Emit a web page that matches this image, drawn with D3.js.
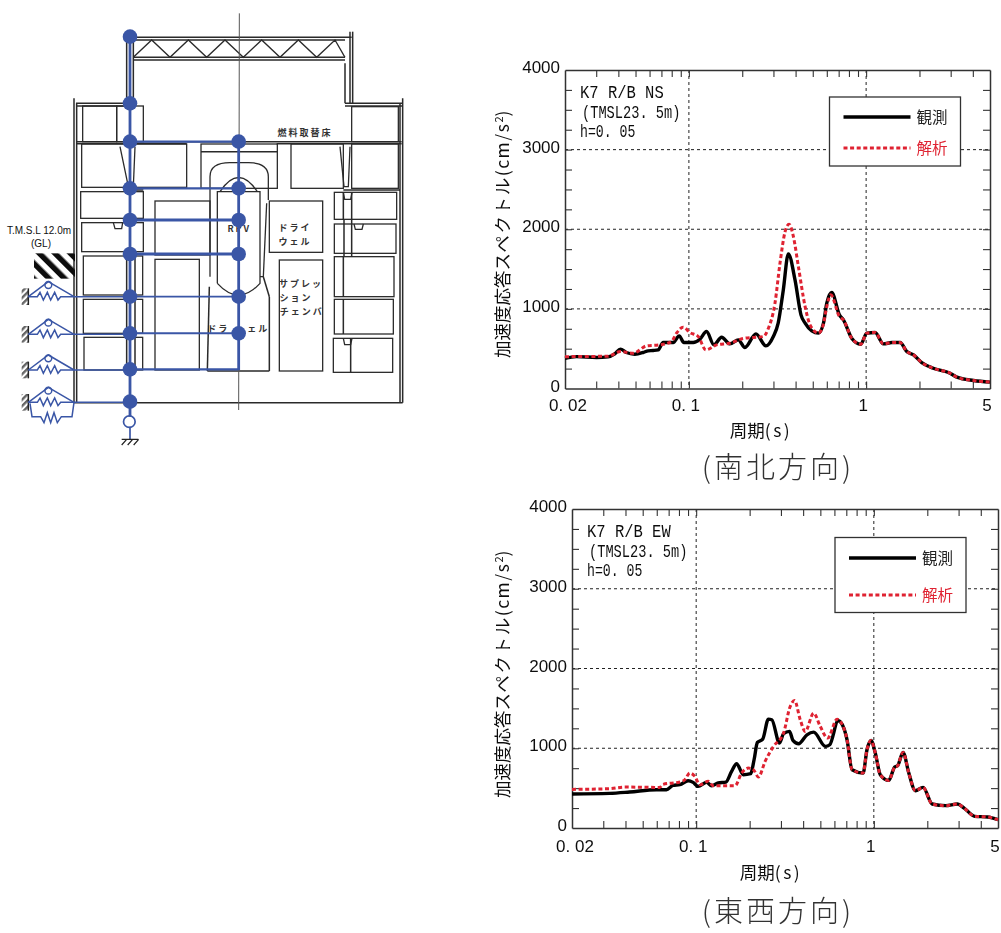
<!DOCTYPE html>
<html>
<head>
<meta charset="utf-8">
<style>
  html, body { margin: 0; padding: 0; background: #fff; }
  svg { display: block; }
  text { fill: #111; }
</style>
<script src="https://cdn.jsdelivr.net/npm/d3@7"></script>
</head>
<body>
<div id="chart"></div>
<script>
////////////////////////////////////////////////////////////////////////////////
///////////////////////////////////////////////////////////////////// Chart data
////////////////////////////////////////////////////////////////////////////////

// NS response spectrum, period (s) and acceleration (cm/s2)
const nsObsT = [0.02, 0.0232, 0.0301, 0.035, 0.0382, 0.0411, 0.0444, 0.0495, 0.0552, 0.0589, 0.0629, 0.0671, 0.0716, 0.0816, 0.0882, 0.0937, 0.1058, 0.1154, 0.1258, 0.1385, 0.153, 0.1705, 0.19, 0.207, 0.239, 0.272, 0.2996, 0.319, 0.341, 0.364, 0.397, 0.429, 0.4527, 0.4935, 0.5385, 0.5746, 0.5999, 0.64, 0.7067, 0.7448, 0.829, 0.9325, 1.009, 1.124, 1.252, 1.397, 1.556, 1.696, 1.85, 2.06, 2.39, 2.98, 3.25, 4.04, 5];
const nsObsV = [380, 400, 390, 397, 435, 494, 452, 431, 452, 473, 477, 485, 577, 577, 661, 577, 577, 619, 715, 548, 644, 560, 611, 515, 686, 535, 653, 820, 1238, 1690, 1364, 925, 820, 724, 695, 820, 1071, 1205, 925, 862, 632, 556, 695, 703, 560, 577, 577, 464, 423, 326, 255, 192, 142, 100, 80];
const nsCalT = [0.02, 0.035, 0.0411, 0.0485, 0.0577, 0.0686, 0.0798, 0.0852, 0.0929, 0.1013, 0.1129, 0.1247, 0.1433, 0.1705, 0.2027, 0.263, 0.281, 0.306, 0.3266, 0.349, 0.3675, 0.3888, 0.4148, 0.4527, 0.4827, 0.5385, 0.5746, 0.5999, 0.632, 0.7067, 0.7448, 0.829, 0.9325, 1.009, 1.124, 1.252, 1.397, 1.556, 1.696, 1.85, 2.06, 2.39, 2.98, 3.25, 4.04, 5];
const nsCalV = [400, 406, 464, 443, 535, 548, 590, 695, 770, 703, 653, 485, 548, 569, 628, 653, 757, 1071, 1573, 1970, 2063, 1908, 1531, 1029, 799, 695, 812, 1029, 1176, 904, 862, 632, 556, 695, 703, 560, 577, 577, 464, 423, 326, 255, 192, 142, 100, 80];

// EW response spectrum
const ewObsT = [0.02, 0.0325, 0.0422, 0.0597, 0.068, 0.0741, 0.0809, 0.0901, 0.0961, 0.1026, 0.1144, 0.1221, 0.1331, 0.1471, 0.1583, 0.1689, 0.1842, 0.2027, 0.2118, 0.2211, 0.2369, 0.255, 0.2664, 0.2945, 0.3102, 0.3354, 0.3505, 0.3773, 0.4203, 0.4584, 0.534, 0.5649, 0.6296, 0.6778, 0.7067, 0.7542, 0.87, 0.915, 0.9646, 1.0195, 1.0875, 1.2124, 1.3103, 1.36, 1.4603, 1.5735, 1.7138, 1.8934, 2.1295, 2.539, 2.9551, 3.2226, 3.7, 4.37, 5];
const ewObsV = [426, 434, 451, 480, 480, 534, 543, 593, 572, 522, 572, 530, 564, 576, 710, 806, 668, 681, 856, 1073, 1115, 1365, 1357, 1065, 1182, 1211, 1098, 1056, 1169, 1202, 1023, 1044, 1344, 1252, 1106, 731, 689, 981, 1098, 939, 668, 597, 764, 780, 948, 689, 468, 509, 301, 280, 301, 250, 146, 138, 104];
const ewCalT = [0.02, 0.0325, 0.0395, 0.0623, 0.0651, 0.0809, 0.0863, 0.0921, 0.0983, 0.1049, 0.1169, 0.1247, 0.1654, 0.1803, 0.1967, 0.2099, 0.2242, 0.2443, 0.2724, 0.3102, 0.3382, 0.3579, 0.3853, 0.4113, 0.4584, 0.4996, 0.5499, 0.6215, 0.6778, 0.7067, 0.7542, 0.87, 0.915, 0.9646, 1.0195, 1.0875, 1.2124, 1.3103, 1.36, 1.4603, 1.5735, 1.7138, 1.8934, 2.1295, 2.539, 2.9551, 3.2226, 3.7, 4.37, 5];
const ewCalV = [484, 493, 513, 509, 547, 576, 605, 689, 647, 543, 585, 530, 530, 689, 751, 731, 639, 835, 1023, 1190, 1524, 1599, 1357, 1211, 1440, 1273, 1127, 1365, 1252, 1106, 731, 689, 981, 1098, 939, 668, 597, 764, 780, 948, 689, 468, 509, 301, 280, 301, 250, 146, 138, 104];

// Axis ticks
const yMajorTicks = [0, 1000, 2000, 3000, 4000];
const yMinorTicks = [250, 500, 750, 1250, 1500, 1750, 2250, 2500, 2750, 3250, 3500, 3750];
const yGridTicks = [1000, 2000, 3000];
const xMajorTicks = [0.02, 0.1, 1, 5];
const xMajorLabels = ["0. 02", "0. 1", "1", "5"];
const xMinorTicks = [0.03, 0.04, 0.05, 0.06, 0.07, 0.08, 0.09, 0.2, 0.3, 0.4, 0.5, 0.6, 0.7, 0.8, 0.9, 2, 3, 4];
const xGridTicks = [0.1, 1];

const legendNames = ["観測", "解析"];

// Building section, in units of 1/3 pixel: x0, y0, x1, y1
const buildingRooms = [
  [248, 318, 350, 425], [350, 318, 430, 425], [245, 432, 560, 562], [873, 432, 1030, 565],
  [1055, 320, 1195, 425], [1055, 432, 1195, 565], [603, 432, 832, 565],
  [242, 575, 430, 655], [245, 668, 430, 755], [250, 768, 428, 885], [250, 898, 428, 1000], [252, 1012, 428, 1110],
  [465, 603, 630, 765], [465, 778, 598, 1110],
  [808, 603, 968, 757], [838, 780, 968, 1113],
  [1003, 577, 1190, 658], [1003, 672, 1188, 760], [1003, 770, 1182, 890], [1003, 898, 1180, 1002], [1000, 1015, 1178, 1117]
];
const buildingWalls = [
  [222, 295, 222, 1208], [230, 310, 230, 1208], [1208, 295, 1208, 1208], [1200, 310, 1200, 1208],
  [222, 1208, 1208, 1208], [228, 310, 380, 310], [228, 318, 380, 318], [1035, 310, 1208, 310], [1035, 318, 1208, 318],
  [380, 100, 380, 310], [400, 100, 400, 310], [1035, 190, 1035, 310], [1058, 95, 1058, 310], [1050, 95, 1050, 310],
  [230, 425, 1205, 425], [230, 431, 560, 431], [830, 431, 1205, 431], [603, 455, 832, 455],
  [380, 570, 430, 570], [1030, 570, 1200, 570],
  [622, 1113, 808, 1113], [622, 1113, 628, 860], [808, 1113, 808, 890], [808, 890, 790, 830],
  [1030, 770, 1030, 890], [1030, 898, 1030, 1002], [1052, 1015, 1052, 1117], [1030, 577, 1030, 658], [1055, 577, 1055, 658],
  [380, 755, 380, 1110], [405, 755, 405, 1110], [1032, 658, 1032, 770], [1055, 658, 1055, 770]
];
const buildingNotches = [
  [[340, 668], [345, 686], [365, 686], [368, 668]],
  [[1062, 672], [1066, 688], [1086, 688], [1090, 672]],
  [[1030, 577], [1034, 598], [1052, 598], [1056, 577]],
  [[1030, 1015], [1034, 1034], [1052, 1034], [1056, 1015]]
];
const trussChords = [[400, 112, 1055, 112], [400, 120, 1035, 120], [400, 172, 1035, 172], [400, 180, 1035, 180]];
const trussPanelX = [400, 455, 510, 565, 620, 675, 730, 785, 840, 895, 950, 1005, 1035];

// Lumped mass model levels, same units
const stickLevels = [110, 310, 425, 565, 660, 762, 890, 1000, 1108, 1205];
const rpvLevels = [425, 565, 660, 762, 890, 1000];
const linkLevels = [425, 565, 660, 762, 890, 1000, 1108];
const linkWidths = [2.4, 2.4, 3, 3, 1.6, 2, 2.4];
const soilLevels = [890, 1003, 1110, 1207];

////////////////////////////////////////////////////////////////////////////////
///////////////////////////////////////////////////////////////////// SVG set-up
////////////////////////////////////////////////////////////////////////////////

const svg = d3.select("#chart")
              .append("svg")
                .attr("width", 1001)
                .attr("height", 933);

const defs = svg.append("defs");

const groundPattern = defs.append("pattern")
  .attr("id", "ground-hatch")
  .attr("patternUnits", "userSpaceOnUse")
  .attr("width", 11)
  .attr("height", 11)
  .attr("patternTransform", "rotate(-45)");
groundPattern.append("rect").attr("width", 5.5).attr("height", 11).attr("fill", "#111");

const anchorPattern = defs.append("pattern")
  .attr("id", "anchor-hatch")
  .attr("patternUnits", "userSpaceOnUse")
  .attr("width", 4.5)
  .attr("height", 4.5)
  .attr("patternTransform", "rotate(45)");
anchorPattern.append("rect").attr("width", 2.4).attr("height", 4.5).attr("fill", "#666");

defs.append("filter")
    .attr("id", "scan-blur")
  .append("feGaussianBlur")
    .attr("stdDeviation", 0.35);

////////////////////////////////////////////////////////////////////////////////
/////////////////////////////////////////////////////////////// Building section
////////////////////////////////////////////////////////////////////////////////

const sx = d3.scaleLinear().domain([0, 1260]).range([0, 420]);
const sy = d3.scaleLinear().domain([0, 1350]).range([0, 450]);
const sketchLine = d3.line().x(d => sx(d[0])).y(d => sy(d[1]));

const building = svg.append("g")
  .attr("filter", "url(#scan-blur)")
  .attr("fill", "none")
  .attr("stroke", "#2a2a2a")
  .attr("stroke-width", 1.3);

building.selectAll(".room")
  .data(buildingRooms)
  .join("rect")
    .attr("class", "room")
    .attr("x", d => sx(d[0]))
    .attr("y", d => sy(d[1]))
    .attr("width", d => sx(d[2]) - sx(d[0]))
    .attr("height", d => sy(d[3]) - sy(d[1]));

building.selectAll(".wall")
  .data(buildingWalls.concat(trussChords))
  .join("line")
    .attr("class", "wall")
    .attr("x1", d => sx(d[0]))
    .attr("y1", d => sy(d[1]))
    .attr("x2", d => sx(d[2]))
    .attr("y2", d => sy(d[3]))
    .attr("stroke-width", 1.5);

building.selectAll(".notch")
  .data(buildingNotches)
  .join("path")
    .attr("class", "notch")
    .attr("d", d => sketchLine(d));

// Truss diagonals
building.append("path")
  .attr("stroke-width", 1.3)
  .attr("d", sketchLine(trussPanelX.map((x, i) => [x, i % 2 ? 120 : 172])));

// Reactor containment and vessel
building.append("path")
  .attr("d", "M" + sx(630) + "," + sy(830) + "V" + sy(530) + "Q" + sx(630) + "," + sy(488) + " " + sx(690) + "," + sy(488)
    + "H" + sx(745) + "Q" + sx(805) + "," + sy(488) + " " + sx(805) + "," + sy(530) + "V" + sy(600));
building.append("path")
  .attr("d", "M" + sx(652) + "," + sy(850) + "V" + sy(575) + "H" + sx(780) + "V" + sy(850)
    + "Q" + sx(716) + "," + sy(920) + " " + sx(652) + "," + sy(850));
building.append("path")
  .attr("d", "M" + sx(660) + "," + sy(575) + "Q" + sx(716) + "," + sy(490) + " " + sx(772) + "," + sy(575));
building.append("path")
  .attr("d", sketchLine([[360, 440], [385, 560], [400, 560], [405, 440]]));
building.append("path")
  .attr("d", sketchLine([[1020, 440], [1032, 560], [1045, 560], [1050, 440]]));
building.append("path")
  .attr("d", sketchLine([[800, 610], [790, 830], [780, 830]]));

// Centre line
building.append("line")
  .attr("x1", sx(718)).attr("y1", sy(40))
  .attr("x2", sx(716)).attr("y2", sy(1230))
  .attr("stroke", "#555")
  .attr("stroke-width", 1);

// Backfill hatch at ground level
svg.append("rect")
  .attr("x", sx(102))
  .attr("y", sy(760))
  .attr("width", sx(225) - sx(102))
  .attr("height", sy(836) - sy(760))
  .attr("fill", "url(#ground-hatch)")
  .attr("filter", "url(#scan-blur)");

// Labels of the section
const sectionLabels = [
  { text: "燃料取替床", x: 915, y: 408 },
  { text: "RPV", x: 718, y: 697 },
  { text: "ドライ", x: 885, y: 692 },
  { text: "ウェル", x: 885, y: 734 },
  { text: "サプレッ", x: 903, y: 860 },
  { text: "ション", x: 888, y: 902 },
  { text: "チェンバ", x: 905, y: 945 },
  { text: "ドラ", x: 655, y: 997 },
  { text: "ェル", x: 775, y: 997 }
];
svg.selectAll(".section-label")
  .data(sectionLabels)
  .join("text")
    .attr("class", "section-label")
    .attr("x", d => sx(d.x))
    .attr("y", d => sy(d.y))
    .attr("text-anchor", "middle")
    .style("font-family", "'Noto Sans CJK JP'")
    .style("font-weight", 700)
    .style("font-size", "9px")
    .style("letter-spacing", "2px")
    .style("fill", "#333")
    .text(d => d.text);

svg.append("text")
  .attr("x", 39).attr("y", 234)
  .attr("text-anchor", "middle")
  .style("font-family", "'Liberation Sans'")
  .style("font-size", "10px")
  .text("T.M.S.L 12.0m");
svg.append("text")
  .attr("x", 41).attr("y", 247)
  .attr("text-anchor", "middle")
  .style("font-family", "'Liberation Sans'")
  .style("font-size", "10px")
  .text("(GL)");

////////////////////////////////////////////////////////////////////////////////
//////////////////////////////////////////////////////////////// Lumped mass model
////////////////////////////////////////////////////////////////////////////////

const modelBlue = "#3a56a6";
const model = svg.append("g").attr("fill", "none").attr("stroke", modelBlue);

const stickX = 390;
const rpvX = 716;

model.append("line")
  .attr("x1", sx(stickX)).attr("y1", sy(d3.min(stickLevels)))
  .attr("x2", sx(stickX)).attr("y2", sy(1250))
  .attr("stroke-width", 2.8);
model.append("line")
  .attr("x1", sx(rpvX)).attr("y1", sy(d3.min(rpvLevels)))
  .attr("x2", sx(rpvX)).attr("y2", sy(1110))
  .attr("stroke-width", 2.8);

model.selectAll(".link")
  .data(linkLevels)
  .join("line")
    .attr("class", "link")
    .attr("x1", sx(stickX)).attr("x2", sx(rpvX))
    .attr("y1", d => sy(d)).attr("y2", d => sy(d))
    .attr("stroke-width", (d, i) => linkWidths[i]);

// Soil springs and dashpots
const soilSpring = model.selectAll(".soil")
  .data(soilLevels)
  .join("g")
    .attr("class", "soil")
    .attr("stroke-width", 1.5);

soilSpring.append("rect")
  .attr("x", sx(65))
  .attr("y", d => sy(d - 25))
  .attr("width", sx(20))
  .attr("height", sy(50))
  .attr("fill", "url(#anchor-hatch)")
  .attr("stroke", "none");
soilSpring.append("line")
  .attr("x1", sx(85)).attr("x2", sx(85))
  .attr("y1", d => sy(d - 25)).attr("y2", d => sy(d + 25))
  .attr("stroke", "#222");
soilSpring.append("path")
  .attr("d", d => sketchLine([[85, d], [145, d - 45], [222, d]]));
soilSpring.append("circle")
  .attr("cx", sx(145))
  .attr("cy", d => sy(d - 35))
  .attr("r", 3.4);
soilSpring.append("path")
  .attr("d", d => sketchLine([[85, d], [112, d], [120, d - 13], [130, d + 10], [142, d - 13], [152, d + 10], [164, d - 13], [174, d + 10], [182, d], [222, d]]));
soilSpring.append("line")
  .attr("x1", sx(222)).attr("x2", sx(stickX))
  .attr("y1", d => sy(d)).attr("y2", d => sy(d));

// Extra spring under the base mat
model.append("path")
  .attr("stroke-width", 1.5)
  .attr("d", sketchLine([[90, 1210], [96, 1250], [122, 1250], [132, 1268], [142, 1238], [152, 1268], [162, 1238], [172, 1268], [184, 1250], [216, 1250], [222, 1207]]));

// Rotation spring and fixed base
model.append("circle")
  .attr("cx", sx(stickX - 2))
  .attr("cy", sy(1265))
  .attr("r", 5.8)
  .attr("stroke-width", 1.7);
model.append("line")
  .attr("x1", sx(stickX)).attr("x2", sx(stickX))
  .attr("y1", sy(1280)).attr("y2", sy(1318))
  .attr("stroke-width", 1.7);
model.append("path")
  .attr("stroke", "#222")
  .attr("stroke-width", 1.2)
  .attr("d", sketchLine([[365, 1318], [415, 1318]]) + sketchLine([[380, 1318], [365, 1335]]) + sketchLine([[398, 1318], [383, 1335]]) + sketchLine([[416, 1318], [401, 1335]]));

const nodes = svg.append("g").attr("fill", modelBlue);
nodes.selectAll(".stick-node")
  .data(stickLevels)
  .join("circle")
    .attr("class", "stick-node")
    .attr("cx", sx(stickX))
    .attr("cy", d => sy(d))
    .attr("r", 7.3);
nodes.selectAll(".rpv-node")
  .data(rpvLevels)
  .join("circle")
    .attr("class", "rpv-node")
    .attr("cx", sx(rpvX))
    .attr("cy", d => sy(d))
    .attr("r", 7.3);

////////////////////////////////////////////////////////////////////////////////
////////////////////////////////////////////////////////////// Response spectra
////////////////////////////////////////////////////////////////////////////////

const obsColor = "#000";
const calcColor = "#df2230";
const noteCharWidths = [9.3, 8.2, 7.9];

function drawSpectrum(panel) {
  const g = svg.append("g")
    .attr("class", "panel")
    .attr("filter", "url(#scan-blur)");

  const xScale = d3.scaleLog().domain([0.02, 5]).range([panel.left, panel.right]);
  const yScale = d3.scaleLinear().domain([0, 4000]).range([panel.bottom, panel.top]);

  // Dashed grid
  g.selectAll(".grid-y")
    .data(yGridTicks)
    .join("line")
      .attr("class", "grid-y")
      .attr("x1", panel.left).attr("x2", panel.right)
      .attr("y1", d => yScale(d)).attr("y2", d => yScale(d))
      .attr("stroke", "#222")
      .attr("stroke-dasharray", "3,3");
  g.selectAll(".grid-x")
    .data(xGridTicks)
    .join("line")
      .attr("class", "grid-x")
      .attr("y1", panel.top).attr("y2", panel.bottom)
      .attr("x1", d => xScale(d)).attr("x2", d => xScale(d))
      .attr("stroke", "#222")
      .attr("stroke-dasharray", "3,3");

  // Ticks point inward on all four sides
  const allX = xMinorTicks.concat(xGridTicks);
  const allY = yMinorTicks.concat(yGridTicks);
  const axisGroups = [
    { axis: d3.axisBottom(xScale).tickValues(allX).tickSize(-7), at: `translate(0,${panel.bottom})` },
    { axis: d3.axisTop(xScale).tickValues(allX).tickSize(-7), at: `translate(0,${panel.top})` },
    { axis: d3.axisLeft(yScale).tickValues(allY).tickSize(-7), at: `translate(${panel.left},0)` },
    { axis: d3.axisRight(yScale).tickValues(allY).tickSize(-7), at: `translate(${panel.right},0)` }
  ];
  axisGroups.forEach(function(a) {
    const ag = g.append("g")
      .attr("transform", a.at)
      .call(a.axis.tickFormat("").tickSizeOuter(0));
    ag.selectAll("path").attr("stroke", "#333").attr("stroke-width", 1.5);
    ag.selectAll("line").attr("stroke", "#333").attr("stroke-width", 1.1);
  });

  // Tick labels
  g.selectAll(".x-label")
    .data(xMajorTicks)
    .join("text")
      .attr("class", "x-label")
      .attr("x", (d, i) => xScale(d) + (i == 0 ? 3 : -3))
      .attr("y", panel.bottom + panel.xLabelGap)
      .attr("text-anchor", "middle")
      .style("font-family", "'Liberation Sans'")
      .style("font-size", "17px")
      .text((d, i) => xMajorLabels[i]);
  g.selectAll(".y-label")
    .data(yMajorTicks)
    .join("text")
      .attr("class", "y-label")
      .attr("x", panel.left - 5)
      .attr("y", d => yScale(d) + 3)
      .attr("text-anchor", "end")
      .style("font-family", "'Liberation Sans'")
      .style("font-size", "17px")
      .text(d => d);

  // Axis titles
  const yTitle = g.append("text")
    .attr("transform", `translate(${panel.yTitleX},${panel.yTitleY}) rotate(-90)`)
    .style("font-family", "'Noto Sans CJK JP'")
    .style("font-size", "17.5px");
  yTitle.append("tspan").text("加速度応答");
  yTitle.append("tspan").style("letter-spacing", "1.6px").text("スペクトル");
  yTitle.append("tspan").style("letter-spacing", "1.5px").text("(cm/s");
  yTitle.append("tspan").attr("dy", -6).style("font-size", "11px").text("2");
  yTitle.append("tspan").attr("dy", 6).text(")");

  const xTitle = g.append("text")
    .attr("x", panel.xTitleX)
    .attr("y", panel.xTitleY)
    .attr("text-anchor", "middle")
    .style("font-family", "'Noto Sans CJK JP'")
    .style("font-size", "17.5px");
  xTitle.append("tspan").text("周期");
  xTitle.append("tspan").style("letter-spacing", "2.5px").text("(s)");

  g.append("text")
    .attr("x", 778)
    .attr("y", panel.captionY)
    .attr("text-anchor", "middle")
    .style("font-family", "'Noto Sans CJK JP'")
    .style("font-weight", 300)
    .style("font-size", "29px")
    .style("letter-spacing", "3px")
    .style("fill", "#333")
    .text(panel.caption);

  // Note in the corner
  g.selectAll(".note")
    .data(panel.note)
    .join("text")
      .attr("class", "note")
      .attr("x", (d, i) => panel.noteX + (i == 1 ? 2 : 0))
      .attr("y", (d, i) => panel.noteY + i * 19.5)
      .attr("textLength", (d, i) => d.length * noteCharWidths[i])
      .attr("lengthAdjust", "spacingAndGlyphs")
      .style("font-family", "'Liberation Mono'")
      .style("font-size", "18.5px")
      .text(d => d);

  // Spectra
  const line = d3.line()
    .x(d => xScale(d[0]))
    .y(d => yScale(d[1]))
    .curve(d3.curveMonotoneX);

  g.append("path")
    .attr("d", line(d3.zip(panel.obsT, panel.obsV)))
    .attr("fill", "none")
    .attr("stroke", obsColor)
    .attr("stroke-width", 3.4);
  g.append("path")
    .attr("d", line(d3.zip(panel.calT, panel.calV)))
    .attr("fill", "none")
    .attr("stroke", calcColor)
    .attr("stroke-width", 3)
    .attr("stroke-dasharray", "4,2.6");

  // Legend
  const lg = panel.legend;
  g.append("rect")
    .attr("x", lg.x)
    .attr("y", lg.y)
    .attr("width", lg.w)
    .attr("height", lg.h)
    .attr("fill", "#fff")
    .attr("stroke", "#333")
    .attr("stroke-width", 1.3);
  legendNames.forEach(function(name, i) {
    const rowY = i == 0 ? lg.row1 : lg.row2;
    g.append("line")
      .attr("x1", lg.x + 14).attr("x2", lg.x + 81)
      .attr("y1", rowY).attr("y2", rowY)
      .attr("stroke", i == 0 ? obsColor : calcColor)
      .attr("stroke-width", i == 0 ? 3.4 : 3)
      .attr("stroke-dasharray", i == 0 ? null : "4,2.6");
    g.append("text")
      .attr("x", lg.x + 87)
      .attr("y", rowY + 6)
      .style("font-family", "'Noto Sans CJK JP'")
      .style("font-size", "15.5px")
      .style("fill", i == 0 ? "#222" : calcColor)
      .text(name);
  });
}

drawSpectrum({
  left: 565, right: 990, top: 70, bottom: 388.5,
  xLabelGap: 22,
  yTitleX: 509, yTitleY: 358,
  xTitleX: 761, xTitleY: 437,
  caption: "(南北方向)", captionY: 478,
  note: ["K7 R/B NS", "(TMSL23. 5m)", "h=0. 05"], noteX: 580, noteY: 98,
  legend: { x: 829.5, y: 97, w: 131, h: 69, row1: 117, row2: 148 },
  obsT: nsObsT, obsV: nsObsV, calT: nsCalT, calV: nsCalV
});

drawSpectrum({
  left: 572, right: 998, top: 509, bottom: 828,
  xLabelGap: 24,
  yTitleX: 509, yTitleY: 798,
  xTitleX: 771, xTitleY: 879,
  caption: "(東西方向)", captionY: 922,
  note: ["K7 R/B EW", "(TMSL23. 5m)", "h=0. 05"], noteX: 587, noteY: 537,
  legend: { x: 835, y: 537.5, w: 131, h: 75, row1: 558, row2: 595 },
  obsT: ewObsT, obsV: ewObsV, calT: ewCalT, calV: ewCalV
});
</script>
</body>
</html>
